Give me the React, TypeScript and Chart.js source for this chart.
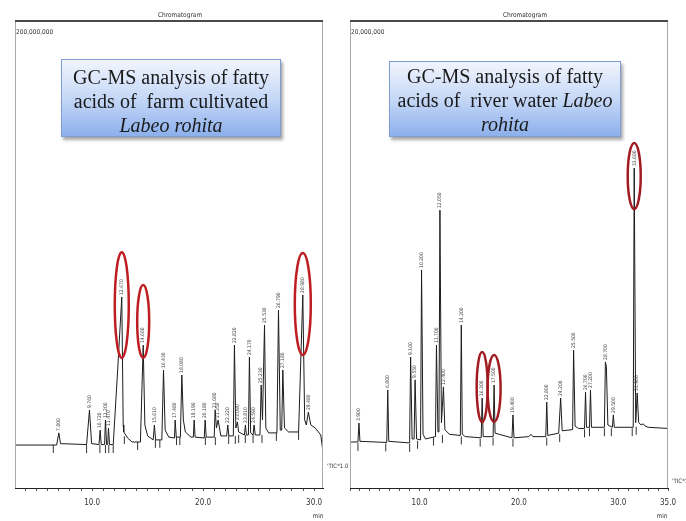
import React, { useEffect, useRef } from "react";
import { Chart, registerables } from "chart.js";

Chart.register(...registerables);

// ---------------- Farm cultivated Labeo rohita (left chromatogram) ----------------
// retention time (min)
const farmTime = [
  3.05, 6.8, 7.0, 7.15, 9.5, 9.76, 9.95, 10.62, 10.72, 10.82,
  11.12, 11.2, 11.3, 11.4, 11.47, 11.57, 11.9, 12.3, 12.67, 12.8,
  12.85, 13.2, 13.6, 14.35, 14.6, 14.75, 15.0, 15.5, 15.61, 15.72,
  16.28, 16.43, 16.58, 16.9, 17.42, 17.48, 17.58, 17.95, 18.08, 18.22,
  18.4, 18.9, 19.12, 19.19, 19.28, 20.1, 20.18, 20.28, 21.0, 21.08,
  21.2, 21.35, 21.6, 22.12, 22.22, 22.32, 22.72, 22.82, 22.95, 23.09,
  23.2, 23.72, 23.81, 23.9, 24.08, 24.17, 24.28, 24.5, 24.59, 24.7,
  25.12, 25.23, 25.35, 25.53, 25.65, 25.9, 26.65, 26.79, 26.95, 27.08,
  27.18, 27.33, 27.7, 28.6, 28.98, 29.15, 29.3, 29.48, 29.7, 30.1,
  30.6, 30.8,
];
// TIC intensity (x 1,000,000)
const farmSignal = [
  18.4, 18.4, 23.6, 19.0, 18.6, 33.4, 19.0, 18.6, 24.8, 18.6,
  18.6, 29.1, 18.6, 18.6, 25.7, 18.6, 18.6, 50.5, 81.8, 27.0,
  24.0, 21.4, 19.7, 19.7, 61.2, 27.0, 22.3, 20.6, 27.0, 20.6,
  20.6, 50.5, 24.8, 21.8, 21.4, 29.1, 21.8, 21.8, 48.4, 29.1,
  24.0, 21.8, 21.8, 29.1, 21.8, 21.4, 29.1, 21.8, 21.8, 33.4,
  25.7, 29.1, 22.3, 22.3, 27.0, 22.3, 22.3, 61.2, 25.7, 28.3,
  24.0, 22.7, 27.0, 22.7, 22.7, 56.1, 23.6, 22.7, 27.0, 22.7,
  22.7, 44.1, 29.1, 69.8, 25.7, 23.6, 23.6, 76.2, 24.8, 24.8,
  50.5, 25.7, 24.0, 24.0, 82.7, 29.1, 27.0, 32.5, 27.0, 25.7,
  22.7, 15.4,
];
// integration marks below the baseline
const farmMarkTime = [6.5, 9.5, 10.7, 11.2, 11.5, 11.9, 12.9, 14.1, 15.7, 16.1, 17.6, 17.9, 20.2, 21.1, 22.3, 22.9, 23.2, 23.8, 24.5, 25.3, 26.6, 28.6];
const farmMarkLevel = [16.7, 16.7, 16.7, 16.7, 16.7, 16.7, 20.5, 18.0, 18.9, 18.9, 20.1, 20.1, 20.1, 20.1, 20.6, 20.6, 21.0, 21.0, 21.0, 21.0, 21.9, 22.3];
// circled peaks
const farmCircleTime = [12.67, 14.6, 28.98];
const farmCircleTop = [101, 86.9, 100.6];
const farmCircleBottom = [55.7, 55.7, 57];
const farmTickLabels = [10, 20, 30];

// ---------------- River water Labeo rohita (right chromatogram) ----------------
const riverTime = [
  3.0, 3.8, 3.9, 4.0, 6.7, 6.8, 6.9, 9.0, 9.1, 9.25,
  9.45, 9.55, 9.7, 10.1, 10.2, 10.35, 10.6, 11.6, 11.7, 11.85,
  11.95, 12.05, 12.2, 12.3, 12.4, 12.55, 13.0, 14.1, 14.2, 14.3,
  14.6, 16.2, 16.3, 16.4, 17.4, 17.5, 17.6, 18.0, 19.3, 19.4,
  19.5, 21.0, 21.2, 21.4, 22.7, 22.8, 22.9, 24.0, 24.2, 24.35,
  25.4, 25.5, 25.65, 26.0, 26.6, 26.7, 26.8, 27.1, 27.2, 27.3,
  28.6, 28.7, 28.8, 28.95, 29.4, 29.5, 29.6, 31.5, 31.6, 31.75,
  31.9, 32.05, 32.3, 32.5, 32.7, 33.0, 35.0,
];
// TIC intensity (x 1,000,000)
const riverSignal = [
  1.97, 1.97, 2.78, 2.0, 1.95, 4.2, 2.0, 1.93, 5.61, 2.1,
  2.1, 4.63, 2.1, 2.06, 9.34, 2.3, 2.1, 2.2, 6.12, 2.4,
  2.4, 11.9, 2.8, 3.5, 4.33, 2.5, 2.3, 2.25, 6.98, 2.3,
  2.2, 2.15, 3.85, 2.2, 2.2, 4.41, 2.35, 2.3, 2.15, 3.13,
  2.15, 2.2, 2.3, 2.2, 2.2, 3.68, 2.25, 2.35, 3.85, 2.45,
  2.5, 5.91, 2.65, 2.55, 2.55, 4.11, 2.6, 2.6, 4.2, 2.6,
  2.6, 5.4, 5.2, 2.7, 2.6, 3.13, 2.6, 2.6, 13.7, 2.8,
  4.07, 2.8, 2.7, 2.75, 2.65, 2.6, 2.55,
];
const riverMarkTime = [3.8, 6.6, 9.0, 9.8, 11.4, 12.3, 14.2, 16.1, 17.4, 19.4, 22.8, 24.1, 26.6, 27.1, 28.6, 29.3, 31.4, 31.8];
const riverMarkLevel = [1.76, 1.74, 1.72, 1.85, 1.99, 2.1, 2.04, 1.94, 1.99, 1.94, 1.99, 2.14, 2.34, 2.39, 2.39, 2.39, 2.39, 2.45];
const riverCircleTime = [16.3, 17.5, 31.6];
const riverCircleTop = [5.82, 5.7, 14.78];
const riverCircleBottom = [2.83, 2.83, 11.95];
const riverTickLabels = [10, 20, 30, 35];

const NARROW = "'Liberation Sans Narrow', 'DejaVu Sans Condensed', sans-serif";

type PanelCfg = {
  time: number[];
  signal: number[];
  markTime: number[];
  markLevel: number[];
  circleTime: number[];
  circleTop: number[];
  circleBottom: number[];
  circleRx: number[];
  circleColor: string;
  tickLabels: number[];
  xMin: number;
  xMax: number;
  yMax: number;
  canvasWidth: number;
  padLeft: number;
  padRight: number;
  scaleText: string;
  titleX: number;
  ticX: number;
  ticY: number;
  minX: number;
  labelThreshold: number;
};

function Panel({ cfg, left }: { cfg: PanelCfg; left: number }) {
  const ref = useRef<HTMLCanvasElement | null>(null);
  useEffect(() => {
    if (!ref.current) return;
    const overlay = {
      id: "chromOverlay",
      afterDatasetsDraw(chart: any) {
        const { ctx, chartArea: a, scales } = chart;
        const x = scales.x;
        const y = scales.y;
        ctx.save();
        // frame
        ctx.strokeStyle = "#a9a9a9";
        ctx.lineWidth = 1;
        ctx.beginPath();
        ctx.moveTo(a.left + 0.5, a.top);
        ctx.lineTo(a.left + 0.5, a.bottom);
        ctx.moveTo(a.right - 0.5, a.top);
        ctx.lineTo(a.right - 0.5, a.bottom);
        ctx.stroke();
        ctx.strokeStyle = "#4a4a4a";
        ctx.lineWidth = 2;
        ctx.beginPath();
        ctx.moveTo(a.left, a.top);
        ctx.lineTo(a.right, a.top);
        ctx.stroke();

        // peak retention-time labels
        const t = cfg.time;
        const s = cfg.signal;
        ctx.font = "5px 'DejaVu Sans Condensed', sans-serif";
        ctx.fillStyle = "#4a4a4a";
        for (let i = 1; i < s.length - 1; i++) {
          if (s[i] > s[i - 1] && s[i] > s[i + 1] && s[i] - Math.min(s[i - 1], s[i + 1]) > cfg.labelThreshold) {
            const px = x.getPixelForValue(t[i]);
            const py = y.getPixelForValue(s[i]);
            ctx.save();
            ctx.translate(px, py - 2);
            ctx.rotate(-Math.PI / 2);
            ctx.textAlign = "left";
            ctx.textBaseline = "middle";
            ctx.fillText(t[i].toFixed(3), 0, 0);
            ctx.restore();
          }
        }

        // red ellipses
        ctx.strokeStyle = cfg.circleColor;
        ctx.lineWidth = 2.5;
        cfg.circleTime.forEach((ct, i) => {
          const cx = x.getPixelForValue(ct);
          const yt = y.getPixelForValue(cfg.circleTop[i]);
          const yb = y.getPixelForValue(cfg.circleBottom[i]);
          ctx.beginPath();
          ctx.ellipse(cx, (yt + yb) / 2, cfg.circleRx[i], (yb - yt) / 2, 0, 0, Math.PI * 2);
          ctx.stroke();
        });

        // texts
        ctx.fillStyle = "#333";
        ctx.font = `6.5px ${NARROW}`;
        ctx.textAlign = "center";
        ctx.textBaseline = "middle";
        ctx.fillText("Chromatogram", cfg.titleX, 15);
        ctx.textAlign = "left";
        ctx.fillText(cfg.scaleText, a.left + 1, 32);
        ctx.font = `6px ${NARROW}`;
        ctx.fillText("'TIC*1.00", cfg.ticX, cfg.ticY);
        ctx.textAlign = "center";
        ctx.font = `6.5px ${NARROW}`;
        ctx.fillText("min", cfg.minX, 516);
        ctx.restore();
      },
    };

    const chart = new Chart(ref.current, {
      type: "line",
      data: {
        datasets: [
          {
            data: cfg.time.map((t, i) => ({ x: t, y: cfg.signal[i] })),
            borderColor: "#1c1c1c",
            borderWidth: 1,
            pointRadius: 0,
            tension: 0,
            fill: false,
          },
          {
            data: cfg.markTime.map((t, i) => ({ x: t, y: cfg.markLevel[i] })),
            showLine: false,
            pointStyle: "line",
            pointRotation: 90,
            pointRadius: 4,
            pointBorderColor: "#333",
            pointBorderWidth: 1,
          },
        ],
      } as any,
      options: {
        responsive: false,
        animation: false,
        layout: { padding: { left: cfg.padLeft, right: cfg.padRight, top: 21, bottom: 0 } },
        plugins: { legend: { display: false }, tooltip: { enabled: false } },
        scales: {
          x: {
            type: "linear",
            min: cfg.xMin,
            max: cfg.xMax,
            afterFit: (scale: any) => {
              scale.height = 33;
            },
            grid: { drawOnChartArea: false, tickLength: 3, color: "#555" },
            border: { color: "#222", width: 1 },
            ticks: {
              stepSize: 1,
              autoSkip: false,
              maxRotation: 0,
              includeBounds: false,
              padding: 7,
              color: "#333",
              font: { family: NARROW, size: 8 },
              callback: (v: any) => (cfg.tickLabels.includes(Number(v)) ? Number(v).toFixed(1) : ""),
            },
          },
          y: { display: false, min: 0, max: cfg.yMax },
        },
      } as any,
      plugins: [overlay],
    });
    return () => chart.destroy();
  }, [cfg]);
  return (
    <canvas
      ref={ref}
      width={cfg.canvasWidth}
      height={521}
      style={{ position: "absolute", left, top: 0, width: cfg.canvasWidth, height: 521, display: "block" }}
    />
  );
}

const farmCfg: PanelCfg = {
  time: farmTime,
  signal: farmSignal,
  markTime: farmMarkTime,
  markLevel: farmMarkLevel,
  circleTime: farmCircleTime,
  circleTop: farmCircleTop,
  circleBottom: farmCircleBottom,
  circleRx: [7, 6, 8],
  circleColor: "#be1d22",
  tickLabels: farmTickLabels,
  xMin: 3.05,
  xMax: 30.8,
  yMax: 200,
  canvasWidth: 348,
  padLeft: 15,
  padRight: 25,
  scaleText: "200,000,000",
  titleX: 180,
  ticX: 327,
  ticY: 466,
  minX: 318,
  labelThreshold: 3,
};

const riverCfg: PanelCfg = {
  time: riverTime,
  signal: riverSignal,
  markTime: riverMarkTime,
  markLevel: riverMarkLevel,
  circleTime: riverCircleTime,
  circleTop: riverCircleTop,
  circleBottom: riverCircleBottom,
  circleRx: [5.5, 6.5, 6.5],
  circleColor: "#a11c22",
  tickLabels: riverTickLabels,
  xMin: 3.0,
  xMax: 35.0,
  yMax: 20,
  canvasWidth: 343,
  padLeft: 6,
  padRight: 18,
  scaleText: "20,000,000",
  titleX: 182,
  ticX: 329,
  ticY: 481,
  minX: 319,
  labelThreshold: 0.3,
};

const boxStyle: React.CSSProperties = {
  position: "absolute",
  boxSizing: "border-box",
  border: "1px solid #7f9dd2",
  background: "linear-gradient(to bottom, #f1f5fd 0%, #c6d8f7 50%, #8cb0ec 100%)",
  boxShadow: "2px 3px 3px rgba(0,0,0,0.35)",
  fontFamily: "'Liberation Serif', 'Times New Roman', serif",
  fontSize: 20,
  lineHeight: "24px",
  textAlign: "center",
  color: "#1a1a1a",
  whiteSpace: "pre",
  zIndex: 2,
};

export default function App() {
  return (
    <div style={{ position: "absolute", left: 0, top: 0, width: 686, height: 521, background: "#fff", overflow: "hidden" }}>
      <Panel cfg={farmCfg} left={0} />
      <Panel cfg={riverCfg} left={343} />
      <div style={{ ...boxStyle, left: 61, top: 59, width: 220, height: 78, paddingTop: 5 }}>
        {"GC-MS analysis of fatty"}
        <br />
        {"acids of  farm cultivated"}
        <br />
        <i>Labeo rohita</i>
      </div>
      <div style={{ ...boxStyle, left: 389, top: 61, width: 232, height: 76, paddingTop: 2 }}>
        {"GC-MS analysis of fatty"}
        <br />
        {"acids of  river water "}
        <i>Labeo</i>
        <br />
        <i>rohita</i>
      </div>
    </div>
  );
}
